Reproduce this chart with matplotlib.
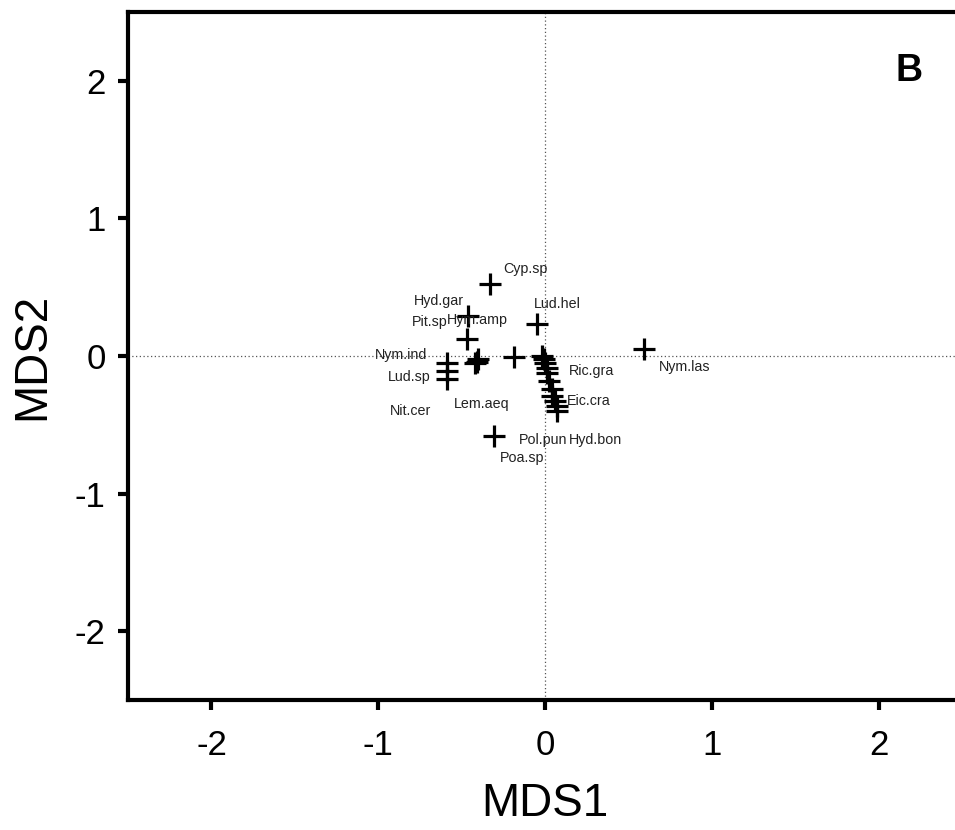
import matplotlib
matplotlib.use("Agg")
import matplotlib.pyplot as plt

plt.rcParams['font.family'] = ['Liberation Sans', 'DejaVu Sans']
plt.rcParams['axes.unicode_minus'] = False

# species scores (MDS1, MDS2)
mds1 = [-0.33, -0.46, -0.47, -0.05, 0.59, -0.31, -0.19,
        -0.59, -0.59, -0.59, -0.40, -0.42, -0.41,
        -0.02, -0.01, 0.00, 0.01, 0.01, 0.02, 0.04, 0.04, 0.06, 0.07, 0.07]
mds2 = [0.52, 0.29, 0.12, 0.23, 0.05, -0.58, -0.01,
        -0.05, -0.11, -0.17, -0.02, -0.05, -0.04,
        0.00, -0.02, -0.05, -0.09, -0.12, -0.18, -0.24, -0.29, -0.33, -0.36, -0.40]

# species labels and their placement (left edge, centre) in data units
label_names = ["Cyp.sp", "Hyd.gar", "Pit.sp", "Hym.amp", "Lud.hel", "Nym.ind",
               "Lud.sp", "Nit.cer", "Lem.aeq", "Ric.gra", "Eic.cra", "Pol.pun",
               "Hyd.bon", "Poa.sp", "Nym.las"]
label_x = [-0.25, -0.79, -0.80, -0.59, -0.07, -1.02, -0.94, -0.93, -0.55,
           0.14, 0.13, -0.16, 0.14, -0.27, 0.68]
label_y = [0.63, 0.40, 0.25, 0.26, 0.38, 0.01, -0.15, -0.40, -0.35,
           -0.11, -0.33, -0.61, -0.61, -0.74, -0.08]

ticks = [-2, -1, 0, 1, 2]

fig = plt.figure(figsize=(9.55, 8.3), dpi=100)
W, H = 955, 830
left, right, top, bottom = 128, 962.5, 12, 700
ax = fig.add_axes([left / W, (H - bottom) / H, (right - left) / W, (bottom - top) / H])
ax.set_xlim(-2.5, 2.5)
ax.set_ylim(-2.5, 2.5)

ax.axhline(0, color='#555555', lw=0.9, ls=(0, (1, 2)), zorder=1)
ax.axvline(0, color='#555555', lw=0.9, ls=(0, (1, 2)), zorder=1)

ax.plot(mds1, mds2, ls='none', marker='+', ms=16, mew=2.3, color='black', zorder=3)

for name, x, y in zip(label_names, label_x, label_y):
    ax.text(x, y, name, fontsize=10.3, ha='left', va='center', color='#222222', zorder=4)

ax.text(0.936, 0.914, "B", transform=ax.transAxes, fontsize=27, fontweight='bold',
        ha='center', va='center')

for s in ['left', 'bottom', 'top', 'right']:
    ax.spines[s].set_linewidth(3)
ax.spines['right'].set_visible(False)

ax.set_xticks(ticks)
ax.set_yticks(ticks)
ax.set_xticklabels([str(t) for t in ticks])
ax.set_yticklabels([str(t) for t in ticks])
ax.tick_params(axis='both', direction='out', length=7, width=3, labelsize=25)
ax.tick_params(axis='x', pad=14)
ax.tick_params(axis='y', pad=9)
ax.tick_params(top=False, right=False)

ax.set_xlabel("MDS1", fontsize=33, labelpad=14)
ax.set_ylabel("MDS2", fontsize=33, labelpad=15)

fig.savefig("out.png", dpi=100)
